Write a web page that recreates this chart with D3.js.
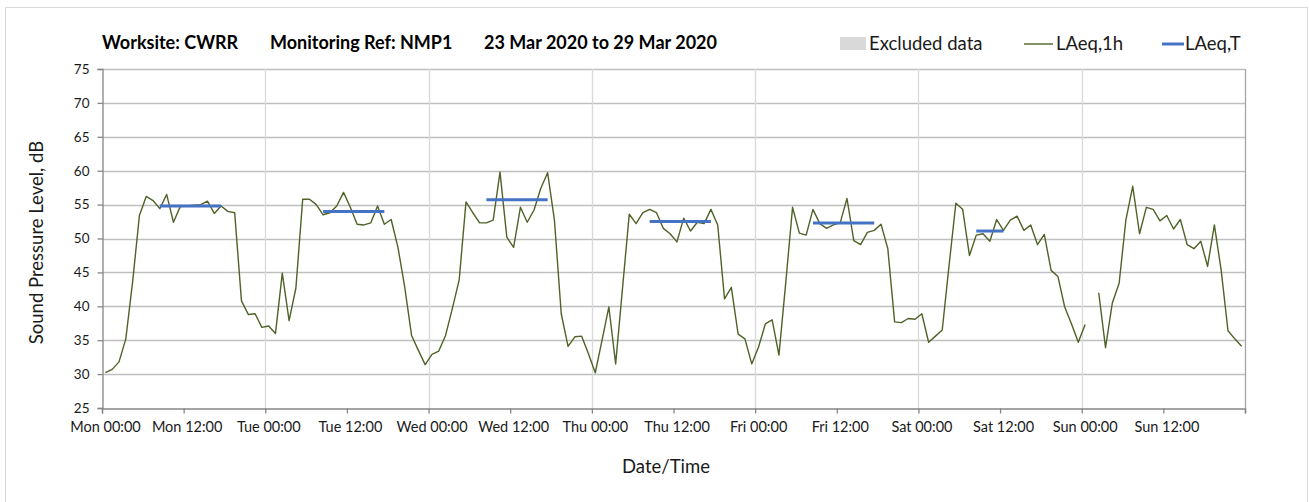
<!DOCTYPE html>
<html>
<head>
<meta charset="utf-8">
<script src="https://cdn.jsdelivr.net/npm/d3@7"></script>
<style>
  body { margin: 0; background: #fff; }
  text { font-family: Lato, "Open Sans", sans-serif; }
</style>
</head>
<body>
<script>
// hourly LAeq,1h values, one array per day (00:00 - 23:00)
var monVals = [30.2, 30.7, 31.8, 35.2, 43.6, 53.4, 56.2, 55.6, 54.4, 56.5, 52.4, 54.7, 54.8, 54.9, 55.0, 55.5, 53.7, 54.8, 54.0, 53.8, 40.8, 38.8, 38.9, 36.9];
var tueVals = [37.1, 36.0, 44.9, 37.9, 42.7, 55.8, 55.8, 55.0, 53.5, 53.8, 54.8, 56.8, 54.6, 52.1, 52.0, 52.3, 54.8, 52.1, 52.8, 48.7, 42.8, 35.7, 33.5, 31.4];
var wedVals = [32.9, 33.4, 35.7, 39.7, 43.9, 55.4, 53.8, 52.3, 52.3, 52.7, 59.8, 50.2, 48.7, 54.6, 52.4, 54.2, 57.4, 59.7, 52.7, 38.9, 34.1, 35.5, 35.6, 33.0];
var thuVals = [30.2, 35.0, 39.9, 31.5, 42.6, 53.6, 52.2, 53.8, 54.3, 53.8, 51.5, 50.7, 49.5, 53.0, 51.1, 52.4, 52.2, 54.3, 52.0, 41.1, 42.8, 35.9, 35.2, 31.5];
var friVals = [34.0, 37.4, 38.0, 32.8, 43.5, 54.6, 50.8, 50.5, 54.3, 52.2, 51.5, 52.0, 52.3, 55.9, 49.7, 49.1, 50.9, 51.2, 52.1, 48.5, 37.7, 37.6, 38.2, 38.1];
var satVals = [38.9, 34.7, 35.6, 36.5, 46.0, 55.2, 54.3, 47.5, 50.5, 50.7, 49.6, 52.8, 51.2, 52.7, 53.3, 51.2, 52.0, 49.1, 50.6, 45.3, 44.4, 39.9, 37.4, 34.7];
var sunVals = [37.3, null, 42.0, 33.9, 40.5, 43.4, 52.8, 57.7, 50.7, 54.6, 54.3, 52.6, 53.4, 51.4, 52.8, 49.1, 48.5, 49.6, 45.9, 52.0, 45.3, 36.4, 35.2, 34.1];

// LAeq,T per day: value, first hour, last hour
var laeqT = [54.8, 54.0, 55.7, 52.5, 52.3, 51.1];
var laeqTStart = [8, 8, 8, 8, 8, 8];
var laeqTEnd = [17, 17, 17, 17, 17, 12];

var dayNames = ['Mon', 'Tue', 'Wed', 'Thu', 'Fri', 'Sat', 'Sun'];
var yTicks = [25, 30, 35, 40, 45, 50, 55, 60, 65, 70, 75];

var margin = {left: 102, right: 1245, top: 69, bottom: 408};

var hourly = [monVals, tueVals, wedVals, thuVals, friVals, satVals, sunVals]
    .reduce(function (acc, arr, d) {
        arr.forEach(function (v, h) { acc.push({hour: d * 24 + h, value: v}); });
        return acc;
    }, []);

var x = d3.scaleLinear().domain([0, 168]).range([margin.left, margin.right]);
var y = d3.scaleLinear().domain([25, 75]).range([margin.bottom, margin.top]);

var svg = d3.select('body').append('svg')
    .attr('width', 1309)
    .attr('height', 502);

// outer chart border
svg.append('rect')
    .attr('x', 5.5).attr('y', 7.5)
    .attr('width', 1302).attr('height', 500)
    .attr('fill', 'none')
    .attr('stroke', '#d9d9d9');

// gridlines
svg.append('g').selectAll('line')
    .data(yTicks.slice(1))
    .enter().append('line')
    .attr('x1', margin.left).attr('x2', margin.right)
    .attr('y1', function (d) { return Math.round(y(d)) + 0.5; })
    .attr('y2', function (d) { return Math.round(y(d)) + 0.5; })
    .attr('stroke', '#bfbfbf')
    .attr('stroke-width', 1.3);

svg.append('g').selectAll('line')
    .data(d3.range(1, 7))
    .enter().append('line')
    .attr('x1', function (d) { return Math.round(x(d * 24)) + 0.5; })
    .attr('x2', function (d) { return Math.round(x(d * 24)) + 0.5; })
    .attr('y1', margin.top).attr('y2', margin.bottom)
    .attr('stroke', '#d9d9d9')
    .attr('stroke-width', 1.3);

// right border of plot
svg.append('line')
    .attr('x1', margin.right + 0.5).attr('x2', margin.right + 0.5)
    .attr('y1', margin.top).attr('y2', margin.bottom + 5)
    .attr('stroke', '#a6a6a6').attr('stroke-width', 1.3);

// axes
var yAxis = d3.axisLeft(y).tickValues(yTicks).tickSize(5).tickPadding(8);
var gy = svg.append('g')
    .attr('transform', 'translate(' + (margin.left + 0.5) + ',0)')
    .call(yAxis);

var xAxis = d3.axisBottom(x)
    .tickValues(d3.range(0, 169, 12))
    .tickSize(5)
    .tickPadding(8)
    .tickFormat(function (d) {
        if (d >= 168) return '';
        return dayNames[Math.floor(d / 24)] + ' ' + (d % 24 === 0 ? '00:00' : '12:00');
    });
var gx = svg.append('g')
    .attr('transform', 'translate(0,' + (margin.bottom + 0.5) + ')')
    .call(xAxis);

[gx, gy].forEach(function (g) {
    g.select('.domain').attr('stroke', '#868686').attr('stroke-width', 1.3);
    g.selectAll('.tick line').attr('stroke', '#868686').attr('stroke-width', 1.3);
    g.selectAll('.tick text')
        .attr('fill', '#1a1a1a')
        .style('font-size', '13.5px');
});
gx.selectAll('.tick text').attr('dx', 3).style('font-size', '14.5px');

// LAeq,1h line
var line = d3.line()
    .defined(function (d) { return d.value !== null; })
    .x(function (d) { return x(d.hour + 0.5); })
    .y(function (d) { return y(d.value); });

svg.append('path')
    .datum(hourly)
    .attr('d', line)
    .attr('fill', 'none')
    .attr('stroke', '#4f6228')
    .attr('stroke-width', 1.4)
    .attr('stroke-linejoin', 'round');

// LAeq,T segments
svg.append('g').selectAll('line')
    .data(laeqT)
    .enter().append('line')
    .attr('x1', function (d, i) { return x(i * 24 + laeqTStart[i] + 0.5); })
    .attr('x2', function (d, i) { return x(i * 24 + laeqTEnd[i] + 0.5); })
    .attr('y1', function (d) { return y(d); })
    .attr('y2', function (d) { return y(d); })
    .attr('stroke', '#4472c4')
    .attr('stroke-width', 3);

// title
var title = svg.append('g')
    .style('font-size', '18px')
    .style('font-weight', 'bold')
    .attr('fill', '#000');
title.append('text').attr('x', 102).attr('y', 49).text('Worksite: CWRR');
title.append('text').attr('x', 270).attr('y', 49).text('Monitoring Ref: NMP1');
title.append('text').attr('x', 484).attr('y', 49).text('23 Mar 2020 to 29 Mar 2020');

// legend
var legend = svg.append('g').style('font-size', '18.5px').attr('fill', '#1a1a1a');
legend.append('rect')
    .attr('x', 840).attr('y', 37).attr('width', 26).attr('height', 13)
    .attr('fill', '#d9d9d9');
legend.append('text').attr('x', 869).attr('y', 50).text('Excluded data');
legend.append('line')
    .attr('x1', 1024).attr('x2', 1053).attr('y1', 44).attr('y2', 44)
    .attr('stroke', '#4f6228').attr('stroke-width', 1.4);
legend.append('text').attr('x', 1056).attr('y', 50).text('LAeq,1h');
legend.append('line')
    .attr('x1', 1162).attr('x2', 1184).attr('y1', 44).attr('y2', 44)
    .attr('stroke', '#4472c4').attr('stroke-width', 3);
legend.append('text').attr('x', 1185).attr('y', 50).text('LAeq,T');

// axis titles
svg.append('text')
    .attr('transform', 'translate(43,' + ((margin.top + margin.bottom) / 2 + 4) + ') rotate(-90)')
    .attr('text-anchor', 'middle')
    .style('font-size', '18.5px')
    .attr('fill', '#1a1a1a')
    .text('Sound Pressure Level, dB');

svg.append('text')
    .attr('x', 666).attr('y', 473)
    .attr('text-anchor', 'middle')
    .style('font-size', '18.5px')
    .attr('fill', '#1a1a1a')
    .text('Date/Time');
</script>
</body>
</html>
